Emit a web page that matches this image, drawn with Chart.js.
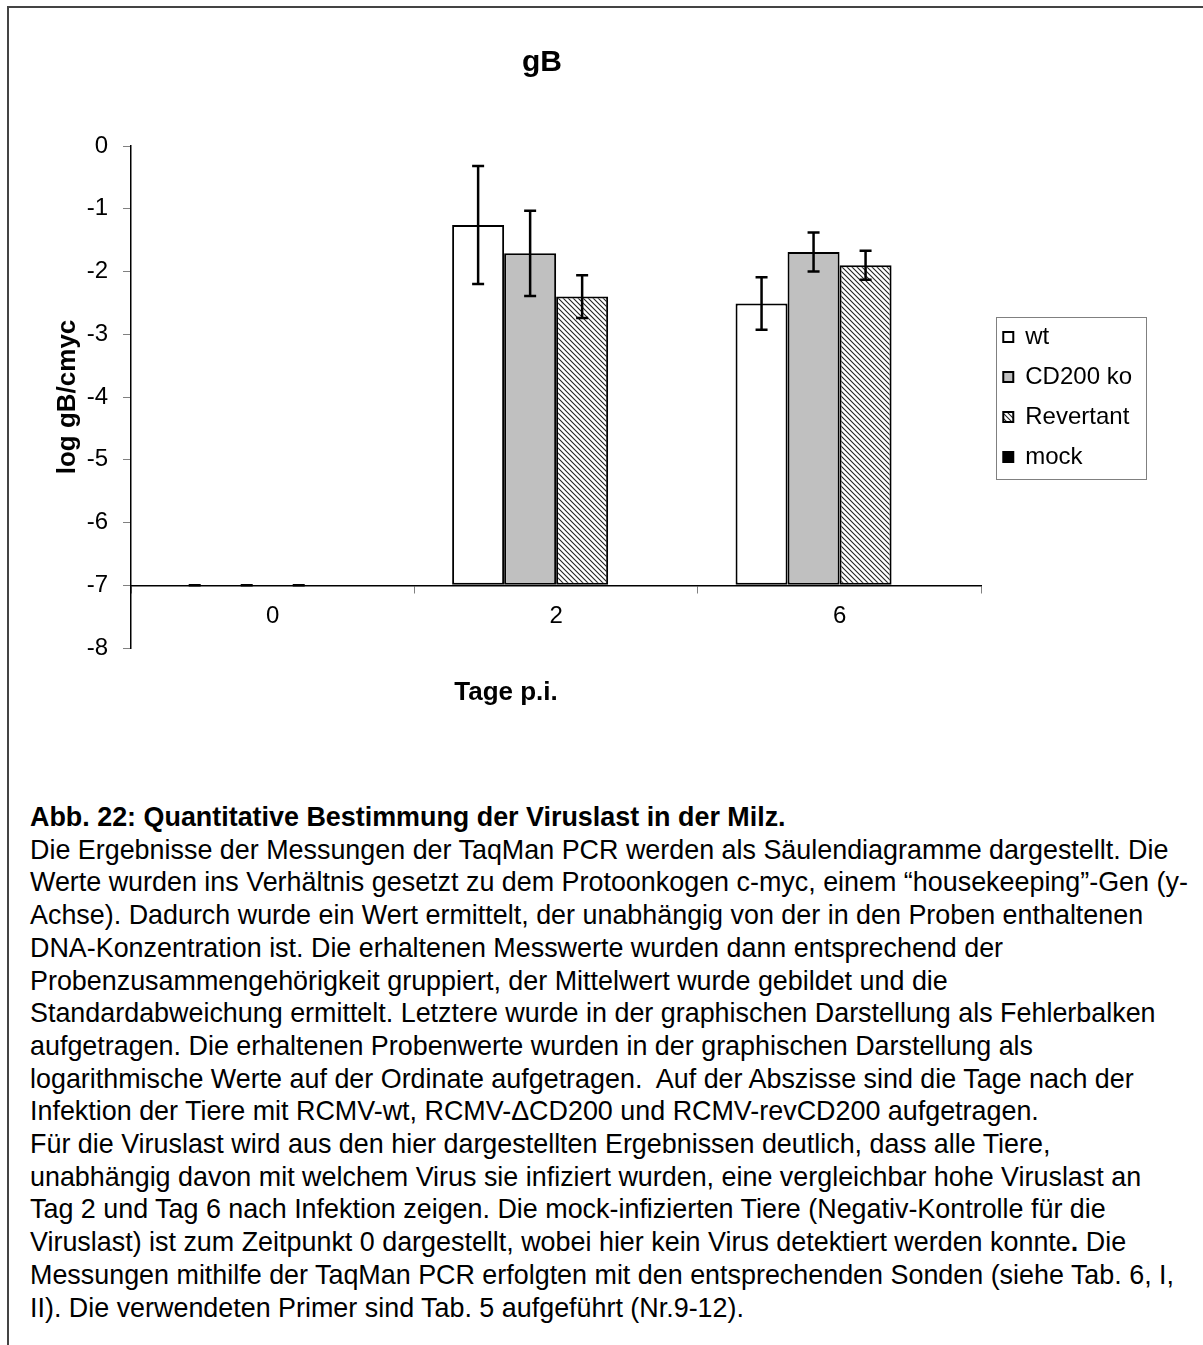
<!DOCTYPE html>
<html lang="de">
<head>
<meta charset="utf-8">
<title>gB – Viruslast in der Milz</title>
<script src="https://cdn.jsdelivr.net/npm/chart.js@4.4.1/dist/chart.umd.min.js"></script>
<style>
  html, body { margin: 0; padding: 0; background: #fff; }
  body {
    width: 1203px; height: 1345px; position: relative; overflow: hidden;
    font-family: "Liberation Sans", Arial, sans-serif; color: #000;
  }
  .frame {
    position: absolute; left: 7px; top: 6px; right: -10px; bottom: -10px;
    border-left: 2px solid #444; border-top: 2px solid #444;
  }
  .chart-box { position: absolute; left: 0; top: 0; width: 1203px; height: 760px; }
  .caption {
    position: absolute; left: 30px; top: 801px;
    font-size: 26.9px; line-height: 32.7px; white-space: nowrap;
  }
</style>
</head>
<body>
<div class="frame"></div>
<div class="chart-box"><canvas id="chart" width="1203" height="760"></canvas></div>
<div class="caption"><b>Abb. 22: Quantitative Bestimmung der Viruslast in der Milz.</b><br>
Die Ergebnisse der Messungen der TaqMan PCR werden als Säulendiagramme dargestellt. Die<br>
Werte wurden ins Verhältnis gesetzt zu dem Protoonkogen c-myc, einem “housekeeping”-Gen (y-<br>
Achse). Dadurch wurde ein Wert ermittelt, der unabhängig von der in den Proben enthaltenen<br>
DNA-Konzentration ist. Die erhaltenen Messwerte wurden dann entsprechend der<br>
Probenzusammengehörigkeit gruppiert, der Mittelwert wurde gebildet und die<br>
Standardabweichung ermittelt. Letztere wurde in der graphischen Darstellung als Fehlerbalken<br>
aufgetragen. Die erhaltenen Probenwerte wurden in der graphischen Darstellung als<br>
logarithmische Werte auf der Ordinate aufgetragen.&nbsp; Auf der Abszisse sind die Tage nach der<br>
Infektion der Tiere mit RCMV-wt, RCMV-ΔCD200 und RCMV-revCD200 aufgetragen.<br>
Für die Viruslast wird aus den hier dargestellten Ergebnissen deutlich, dass alle Tiere,<br>
unabhängig davon mit welchem Virus sie infiziert wurden, eine vergleichbar hohe Viruslast an<br>
Tag 2 und Tag 6 nach Infektion zeigen. Die mock-infizierten Tiere (Negativ-Kontrolle für die<br>
Viruslast) ist zum Zeitpunkt 0 dargestellt, wobei hier kein Virus detektiert werden konnte<b>.</b> Die<br>
Messungen mithilfe der TaqMan PCR erfolgten mit den entsprechenden Sonden (siehe Tab. 6, I,<br>
II). Die verwendeten Primer sind Tab. 5 aufgeführt (Nr.9-12).</div>

<script>
// Daten (log gB/cmyc)
const days = ["0", "2", "6"];
const wtMean = [-7, -1.26, -2.51];
const wtSd = [0, 0.94, 0.42];
const koMean = [-7, -1.71, -1.69];
const koSd = [0, 0.68, 0.31];
const revMean = [-7, -2.40, -1.90];
const revSd = [0, 0.34, 0.23];
const mockMean = [-7, null, null];

const baseline = -7; // Säulen starten bei -7, dort kreuzt die x-Achse
const yMin = -8;
const yMax = 0;

const FONT = "'Liberation Sans', Arial, sans-serif";

// Schraffur für "Revertant"
function makeHatch() {
  const c = document.createElement("canvas");
  c.width = 5;
  c.height = 5;
  const g = c.getContext("2d");
  g.fillStyle = "#fff";
  g.fillRect(0, 0, 5, 5);
  g.strokeStyle = "#222";
  g.lineWidth = 1.1;
  g.beginPath();
  g.moveTo(-1, -1); g.lineTo(6, 6);
  g.moveTo(-1, 4); g.lineTo(1, 6);
  g.moveTo(4, -1); g.lineTo(6, 1);
  g.stroke();
  return g.createPattern(c, "repeat");
}

// Fehlerbalken (Standardabweichung)
const errorBars = {
  id: "errorBars",
  afterDatasetsDraw(chart) {
    const { ctx } = chart;
    const y = chart.scales.y;
    ctx.save();
    ctx.strokeStyle = "#000";
    ctx.lineWidth = 2.5;
    chart.data.datasets.forEach((ds, i) => {
      if (!ds.errors) return;
      chart.getDatasetMeta(i).data.forEach((bar, j) => {
        const v = ds.data[j];
        const e = ds.errors[j];
        if (v == null || e == null) return;
        const top = y.getPixelForValue(v + e);
        const bot = y.getPixelForValue(v - e);
        ctx.beginPath();
        ctx.moveTo(bar.x, top); ctx.lineTo(bar.x, bot);
        ctx.moveTo(bar.x - 6, top); ctx.lineTo(bar.x + 6, top);
        ctx.moveTo(bar.x - 6, bot); ctx.lineTo(bar.x + 6, bot);
        ctx.stroke();
      });
    });
    ctx.restore();
  },
};

// Titel, Achsentitel und Rahmen um die Legende
const decorations = {
  id: "decorations",
  afterDraw(chart) {
    const { ctx, chartArea: a } = chart;
    ctx.save();
    ctx.fillStyle = "#000";
    ctx.textAlign = "center";
    ctx.textBaseline = "middle";

    ctx.font = `bold 30px ${FONT}`;
    ctx.fillText("gB", a.left + 411, 63);

    ctx.font = `bold 26px ${FONT}`;
    ctx.fillText("Tage p.i.", a.left + 375, a.bottom + 45);

    ctx.save();
    ctx.translate(68, (a.top + a.bottom) / 2);
    ctx.rotate(-Math.PI / 2);
    ctx.fillText("log gB/cmyc", 0, 0);
    ctx.restore();

    const boxes = chart.legend.legendHitBoxes;
    if (boxes.length) {
      const first = boxes[0];
      const last = boxes[boxes.length - 1];
      ctx.strokeStyle = "#808080";
      ctx.lineWidth = 1;
      ctx.strokeRect(
        Math.round(first.left - 7) + 0.5,
        Math.round(first.top - 8) + 0.5,
        150,
        last.top + last.height - first.top + 18
      );
    }
    ctx.restore();
  },
};

const barStyle = {
  borderColor: "#000",
  borderWidth: 2,
  borderSkipped: false,
  base: baseline,
};

new Chart(document.getElementById("chart"), {
  type: "bar",
  data: {
    labels: days,
    datasets: [
      { label: "wt", data: wtMean, errors: wtSd, backgroundColor: "#fff", ...barStyle },
      { label: "CD200 ko", data: koMean, errors: koSd, backgroundColor: "#c0c0c0", ...barStyle },
      { label: "Revertant", data: revMean, errors: revSd, backgroundColor: makeHatch(), ...barStyle },
      { label: "mock", data: mockMean, backgroundColor: "#000", ...barStyle },
    ],
  },
  options: {
    responsive: false,
    animation: false,
    devicePixelRatio: 1,
    categoryPercentage: 0.734,
    barPercentage: 1,
    layout: { padding: { top: 146, bottom: 112, left: 0, right: 61 } },
    scales: {
      x: {
        position: { y: baseline },
        offset: true,
        grid: { offset: true, drawOnChartArea: false, tickLength: 7, color: "#808080" },
        border: { color: "#000", width: 1.5 },
        ticks: { padding: 10, color: "#000", font: { family: FONT, size: 24 } },
      },
      y: {
        type: "linear",
        min: yMin,
        max: yMax,
        ticks: { stepSize: 1, padding: 15, color: "#000", font: { family: FONT, size: 24 } },
        grid: { drawOnChartArea: false, tickLength: 8, color: "#808080" },
        border: { color: "#000", width: 1.5 },
        afterFit(scale) { scale.width = 131; },
      },
      // schmaler Abstand zwischen Diagramm und Legende
      gap: {
        type: "linear",
        position: "right",
        grid: { display: false },
        border: { display: false },
        ticks: { display: false },
        afterFit(scale) { scale.width = 6; },
      },
    },
    plugins: {
      title: { display: false },
      tooltip: { enabled: false },
      legend: {
        position: "right",
        labels: {
          boxWidth: 10,
          boxHeight: 10,
          padding: 16,
          color: "#000",
          font: { family: FONT, size: 24 },
        },
      },
    },
  },
  plugins: [errorBars, decorations],
});
</script>
</body>
</html>
